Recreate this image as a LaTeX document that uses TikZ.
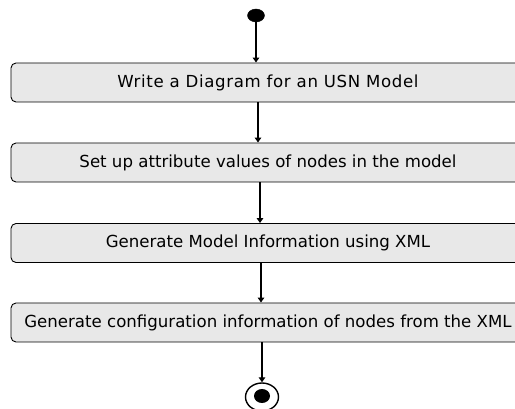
\documentclass[tikz,border=0pt]{standalone}
\usepackage{fontspec}
\setmainfont{DejaVu Sans}
\newfontfamily\spacedfont[LetterSpace=3.8]{DejaVu Sans}
\usetikzlibrary{arrows.meta,shapes.geometric}
\definecolor{boxgray}{HTML}{E8E8E8}
\tikzset{
  actbox/.style={draw=black, line width=0.9pt, fill=boxgray, rounded corners=5pt,
    minimum width=514pt, minimum height=39pt, inner sep=0pt, font=\fontsize{16.6}{19}\selectfont},
  flow/.style={line width=1.8pt, -{Triangle[width=6.5pt,length=5pt]}},
}
\begin{document}
\begin{tikzpicture}[x=1pt,y=-1pt]
\useasboundingbox (0,0) rectangle (515,409);
\clip (0,0) rectangle (515,409);
\fill[white] (0,0) rectangle (515,409);
\node[draw, fill=black, ellipse, minimum width=17pt, minimum height=13pt, inner sep=0pt] (start) at (256,15.5) {};
\node[actbox, font=\spacedfont\fontsize{16.6}{19}\selectfont] (b1) at (268,82.5) {Write a Diagram for an USN Model};
\node[actbox] (b2) at (268,162.5) {Set up attribute values of nodes in the model};
\node[actbox] (b3) at (268,243) {Generate Model Information using XML};
\node[actbox] (b4) at (268,322.5) {Generate configuration information of nodes from the XML};
\node[draw, ellipse, line width=1.4pt, minimum width=33pt, minimum height=28pt, inner sep=0pt] (endring) at (262,397) {};
\node[fill=black, ellipse, minimum width=16pt, minimum height=14pt, inner sep=0pt] (enddot) at (262,396) {};
\coordinate (axisA) at (258,0);
\coordinate (axisB) at (260,0);
\coordinate (axisC) at (261,0);
\draw[flow] (start.south) -- (start.south |- b1.north);
\draw[flow] (b1.south -| axisA) -- (b2.north -| axisA);
\draw[flow] (b2.south -| axisB) -- (b3.north -| axisB);
\draw[flow] (b3.south -| axisC) -- (b4.north -| axisC);
\draw[flow] (b4.south -| endring) -- (endring.north);
\end{tikzpicture}
\end{document}
